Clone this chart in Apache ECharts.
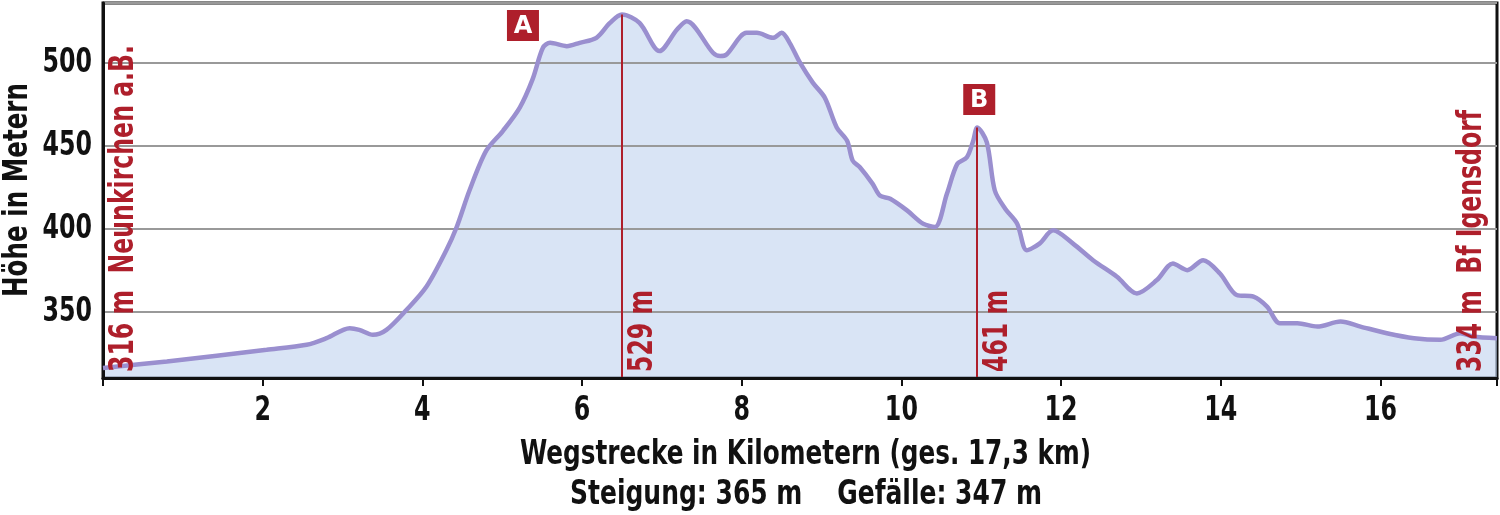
<!DOCTYPE html>
<html>
<head>
<meta charset="utf-8">
<script src="https://cdn.jsdelivr.net/npm/echarts@6/dist/echarts.min.js"></script>
<style>
html,body{margin:0;padding:0;background:#fff;}
#chart{width:1500px;height:515px;}
</style>
</head>
<body>
<div id="chart"></div>
<script>
// ---- data ----
const distKm = [0, 0.8, 2.05, 2.55, 2.8, 3.09, 3.21, 3.38, 3.55, 3.8, 4.05, 4.3, 4.43, 4.59, 4.8, 5.01, 5.22, 5.38, 5.51, 5.6, 5.81, 5.97, 6.18, 6.35, 6.5, 6.72, 6.97, 7.19, 7.31, 7.64, 7.73, 7.81, 8.06, 8.19, 8.39, 8.5, 8.6, 8.73, 8.89, 9.04, 9.19, 9.32, 9.39, 9.48, 9.64, 9.73, 9.86, 10.07, 10.27, 10.42, 10.57, 10.7, 10.82, 10.9, 10.95, 11.07, 11.17, 11.3, 11.45, 11.57, 11.73, 11.9, 12.15, 12.4, 12.7, 12.95, 13.2, 13.4, 13.58, 13.78, 13.99, 14.2, 14.41, 14.58, 14.74, 14.96, 15.21, 15.5, 15.75, 16.08, 16.42, 16.75, 17.0, 17.16, 17.46];
const altM = [316, 320, 327, 330, 334, 340, 339, 336, 339, 351, 365, 387, 401, 423, 447, 459, 473, 490, 509, 512, 510, 512, 515, 524, 529, 524, 507, 520, 525, 506, 504, 505, 518, 518, 515, 518, 512, 500, 488, 479, 461, 453, 441, 437, 427, 420, 418, 411, 403, 401, 421, 439, 443, 453, 461, 452, 423, 412, 403, 387, 391, 399, 391, 381, 371, 361, 369, 379, 375, 381, 373, 360, 359, 353, 343, 343, 341, 344, 341, 337, 334, 333, 337, 335, 334];
const xTickLabels = [2, 4, 6, 8, 10, 12, 14, 16];
const yTickLabels = [350, 400, 450, 500];
const markerKm = [6.5, 10.95];
const markerAlt = [529, 461];
const markerName = ['A', 'B'];
const startLabel = '316 m  Neunkirchen a.B.';
const endLabel = '334 m  Bf Igensdorf';
const yTitle = 'Höhe in Metern';
const xTitle = 'Wegstrecke in Kilometern (ges. 17,3 km)';
const statsLine = 'Steigung: 365 m    Gefälle: 347 m';
const yMin = 310, yMax = 536, xMin = 0, xMax = 17.46;

// ---- styles ----
const FAM = '"DejaVu Sans Condensed","DejaVu Sans",sans-serif';
const FONT = 'bold 33px ' + FAM;
const RED = '#ae1f2b';
const LINE = '#9a8fcf';
const FILL = 'rgba(190,208,238,0.58)';

const pts = distKm.map((d, i) => [d, altM[i]]);

const chart = echarts.init(document.getElementById('chart'), null, {renderer: 'canvas'});
chart.setOption({
  animation: false,
  grid: {left: 103, right: 3, top: 3, bottom: 137, show: true, borderColor: '#111', borderWidth: 3, backgroundColor: 'transparent'},
  xAxis: {
    type: 'value', min: xMin, max: xMax, interval: 2, z: 5,
    axisLine: {show: true, onZero: false, lineStyle: {color: '#111', width: 3}},
    axisTick: {show: true, inside: false, length: 8, lineStyle: {color: '#111', width: 2}},
    axisLabel: {show: false},
    splitLine: {show: false}
  },
  yAxis: {
    type: 'value', min: yMin, max: yMax, splitNumber: 5, z: 2,
    axisLine: {show: true, lineStyle: {color: '#111', width: 3}},
    axisTick: {show: false},
    axisLabel: {show: false},
    splitLine: {show: true, lineStyle: {color: '#999', width: 2}}
  },
  series: [
    {type: 'line', z: 1, data: pts, smooth: 0.3, symbol: 'none', silent: true,
     lineStyle: {width: 0}, areaStyle: {color: FILL, opacity: 1, origin: 'start'}},
    {type: 'line', z: 3, data: pts, smooth: 0.3, symbol: 'none', silent: true,
     lineStyle: {color: LINE, width: 4.5},
     markLine: {silent: true, symbol: ['none', 'none'], label: {show: false},
       lineStyle: {color: RED, width: 2, type: 'solid'},
       data: markerKm.map((k, i) => [{coord: [k, yMin]}, {coord: [k, markerAlt[i]]}])}}
  ]
});

const ctx = document.createElement('canvas').getContext('2d');
function fit(text, font, target) { ctx.font = font; return target / ctx.measureText(text).width; }
function px(p) { return chart.convertToPixel({gridIndex: 0}, p); }
const NUMSCALE = 0.8;
const graphics = [];
function txt(o) { graphics.push(Object.assign({type: 'text', z: 11}, o)); }

// tick labels
xTickLabels.forEach(v => {
  const p = px([v, yMin]);
  txt({x: p[0], y: p[1] + 33, scaleX: NUMSCALE,
    style: {text: String(v), fill: '#111', font: FONT, align: 'center', verticalAlign: 'middle'}});
});
yTickLabels.forEach(v => {
  const p = px([xMin, v]);
  txt({x: p[0] - 11, y: p[1] + 1, scaleX: NUMSCALE,
    style: {text: String(v), fill: '#111', font: FONT, align: 'right', verticalAlign: 'middle'}});
});

// markers
const boxOffset = [[-99, 11], [2, -28]];
markerKm.forEach((k, i) => {
  const top = px([k, markerAlt[i]]);
  const bot = px([k, yMin]);
  const cx = top[0] + boxOffset[i][0], cy = top[1] + boxOffset[i][1];
  graphics.push({type: 'rect', z: 10, shape: {x: cx - 16, y: cy - 15.5, width: 32, height: 31},
    style: {fill: RED}});
  txt({x: cx, y: cy + 1,
    style: {text: markerName[i], fill: '#fff', font: 'bold 24px "DejaVu Sans","Liberation Sans",sans-serif',
      align: 'center', verticalAlign: 'middle'}});
  const lab = markerAlt[i] + ' m';
  txt({x: bot[0] + 21, y: bot[1] - 6, rotation: Math.PI / 2, scaleX: fit(lab, FONT, 82),
    style: {text: lab, fill: RED, font: FONT, align: 'left', verticalAlign: 'middle'}});
});
const s0 = px([xMin, yMin]);
const s1 = px([xMax, yMin]);
txt({x: s0[0] + 21, y: s0[1] - 6, rotation: Math.PI / 2, scaleX: fit(startLabel, FONT, 327),
  style: {text: startLabel, fill: RED, font: FONT, align: 'left', verticalAlign: 'middle'}});
txt({x: s1[0] - 25, y: s1[1] - 6, rotation: Math.PI / 2, scaleX: fit(endLabel, FONT, 262),
  style: {text: endLabel, fill: RED, font: FONT, align: 'left', verticalAlign: 'middle'}});
// titles
txt({x: 18, y: 297, rotation: Math.PI / 2, scaleX: fit(yTitle, FONT, 214),
  style: {text: yTitle, fill: '#111', font: FONT, align: 'left', verticalAlign: 'middle'}});
txt({x: 520, y: 455, scaleX: fit(xTitle, FONT, 571),
  style: {text: xTitle, fill: '#111', font: FONT, align: 'left', verticalAlign: 'middle'}});
txt({x: 570, y: 495, scaleX: fit(statsLine, FONT, 472),
  style: {text: statsLine, fill: '#111', font: FONT, align: 'left', verticalAlign: 'middle'}});
chart.setOption({graphic: graphics});
</script>
</body>
</html>
